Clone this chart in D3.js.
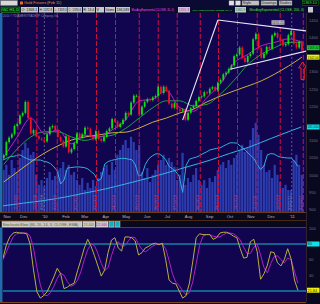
<!DOCTYPE html>
<html><head><meta charset="utf-8">
<script src="https://cdn.jsdelivr.net/npm/d3@7"></script>
<style>
html,body{margin:0;padding:0;background:#08081f;}
svg{display:block;font-family:"Liberation Sans",Arial,sans-serif;}
</style></head><body>
<svg id="chart" width="320" height="304"></svg>
<script>
// ---- data ----
// candles: one every 4 days from Nov 2 2009
const candleStart = "2009-11-02", candleStep = 4;
const firstOpen = 1048;
const closes = [1057,1095,1108,1118,1142,1148,1172,1180,1212,1165,
  1120,1130,1112,1105,1102,1097,1118,1138,1142,1130,
  1110,1098,1082,1112,1065,1075,1092,1120,1108,1118,
  1137,1134,1112,1103,1127,1104,1098,1110,1127,1135,
  1162,1155,1139,1148,1160,1180,1175,1210,1230,1230,
  1175,1198,1212,1220,1217,1225,1229,1256,1238,1256,
  1244,1207,1195,1208,1190,1186,1190,1160,1180,1194,
  1200,1215,1226,1228,1240,1237,1250,1255,1245,1268,
  1276,1292,1297,1308,1318,1345,1350,1370,1340,1328,
  1345,1352,1394,1410,1368,1340,1352,1372,1366,1405,
  1412,1398,1392,1376,1380,1406,1418,1381,1370,1387,
  1362];
// volume (thousands), same dates as candles
const volumes = [105,118,93,130,110,100,135,155,173,160,143,150,
  93,68,80,63,85,100,80,90,105,110,125,105,118,93,100,
  80,68,85,55,73,60,80,65,85,100,110,118,93,125,105,
  143,155,168,180,160,188,175,155,168,100,85,110,75,93,105,118,
  130,143,118,135,125,113,80,93,148,68,85,75,93,110,80,
  68,80,60,85,75,90,105,118,125,110,130,118,135,
  143,155,168,150,160,180,210,223,193,155,118,100,105,85,118,93,
  75,60,68,55,55,130,143,118,93];
// moving averages, every 5th candle
const maEvery = 5;
const ma20  = [1050,1110,1165,1120,1130,1090,1115,1110,1130,1160,1215,1220,1245,1195,1185,1225,1265,1325,1350,1375,1385,1395,1385];
const ma50  = [1030,1075,1110,1125,1125,1110,1100,1110,1115,1135,1165,1195,1215,1215,1200,1205,1235,1275,1320,1350,1370,1385,1385];
const ma200 = [979,1008,1037,1063,1084,1101,1110,1116,1122,1124,1136,1153,1165,1180,1191,1212,1229,1244,1258,1273,1293,1316,1342];
// samples every 5 days from Nov 1 2009
const sampleStart = "2009-11-01", sampleStep = 5;
const volAvg = [130,134,138,139,141,143,138,134,130,130,130,130,127,125,121,113,103,70,80,110,
  111,112,113,112,111,108,101,94,78,83,120,126,129,131,133,134,134,132,131,119,
  90,93,119,133,140,145,146,140,131,114,108,101,89,49,116,132,135,137,141,146,
  150,155,157,159,160,165,169,173,173,172,165,158,150,142,134,119,106,115,143,146,
  145,140,137,136,135,135,127,114];
const stochK = [62,79,89,94,95,94,94,93,80,47,19,11,14,19,28,38,49,42,23,25,
  28,30,46,60,75,86,77,65,52,39,47,69,85,88,75,71,89,89,88,84,
  66,69,75,77,80,81,79,81,60,34,30,29,20,11,14,30,58,88,93,92,
  92,92,86,88,94,95,95,93,90,88,74,62,63,83,86,70,35,42,53,70,
  69,56,52,60,74,61,34,21];
const stochD = [60,70,80,89,93,94,94,94,90,75,50,28,15,14,18,26,36,43,40,32,
  26,28,34,45,60,73,80,78,68,55,46,50,65,78,83,77,78,84,89,88,
  80,73,70,73,77,79,80,80,74,59,42,31,27,20,15,18,32,55,78,90,
  92,92,90,89,89,92,94,94,93,90,85,76,68,68,76,80,66,50,43,55,
  64,65,60,56,62,60,45,30];
// open interest (thousands)
const oiDates = ["2009-11-01","2009-12-01","2010-01-01","2010-02-01","2010-03-01","2010-04-01","2010-05-01","2010-06-01",
  "2010-07-01","2010-08-01","2010-09-01","2010-10-01","2010-11-01","2010-12-01","2011-01-01","2011-01-15"];
const openInterest = [376,383,390,399,409,420,433,447,462,478,494,512,530,551,572,581];
// cycle lines and year marks
const cycleDates = ["2009-11-23","2009-12-21","2010-01-20","2010-02-19","2010-03-19","2010-04-16","2010-05-21","2010-06-18",
  "2010-07-16","2010-08-19","2010-09-15","2010-10-13","2010-11-11","2010-12-15","2011-01-18"];
const yearDates = ["2010-01-01","2011-01-01"];
// axes
const monthDates = ["2009-11-01","2009-12-01","2010-01-01","2010-02-01","2010-03-01","2010-04-01","2010-05-01","2010-06-01",
  "2010-07-01","2010-08-01","2010-09-01","2010-10-01","2010-11-01","2010-12-01","2011-01-01"];
const monthLabels = ["Nov","Dec","'10","Feb","Mar","Apr","May","Jun","Jul","Aug","Sep","Oct","Nov","Dec","'11"];
const priceTicks = [900,950,1000,1050,1100,1150,1200,1250,1300,1350,1400,1450];
const stochTicks = [100,60,40];
// drawn trend lines [date, price]
const trendLines = [
  [["2010-07-24",1159],["2010-09-14",1450]],
  [["2010-09-14",1450],["2011-01-23",1418]],
  [["2010-10-02",1307],["2011-01-23",1360]]
];
const trendLabel = ["2010-12-05",1442,"1431.21"];
const arrowDate = "2011-01-17", arrowTip = 1328, arrowBase = 1277;
const lastQuote = 1369.4;

// ---- layout ----
const W = 320, H = 304;
const L = 3, R = 306, mainTop = 13, mainBot = 212, stTop = 228, stBot = 302;
const parse = d3.timeParse("%Y-%m-%d");
const svg = d3.select("#chart");

const x = d3.scaleTime().domain([new Date(2009,10,1), new Date(2011,0,22)]).range([L,R]);
const y = d3.scaleLinear().domain([900,1450]).range([209.2,20]);
const vy = d3.scaleLinear().domain([0,250]).range([mainBot, mainBot-100]);
const oy = d3.scaleLinear().domain([360,620]).range([mainBot, mainBot-100]);
const sy = d3.scaleLinear().domain([20,80]).range([291,244]);

const candleDate = i => d3.timeDay.offset(parse(candleStart), i*candleStep);
const sampleDate = j => d3.timeDay.offset(parse(sampleStart), j*sampleStep);

// shrink a text until its natural width fits
function fitText(sel, maxW, size) {
  const len = sel.node().getComputedTextLength();
  if (len > maxW) sel.attr("font-size", size * maxW / len);
  return sel;
}

// backgrounds
svg.append("rect").attr("width",W).attr("height",H).attr("fill","#08081f");
svg.append("rect").attr("width",W).attr("height",mainTop).attr("fill","#0a0a32");
svg.append("rect").attr("x",L).attr("y",mainTop).attr("width",R-L).attr("height",mainBot-mainTop).attr("fill","#110550");
svg.append("rect").attr("x",L).attr("y",stTop).attr("width",R-L).attr("height",stBot-stTop).attr("fill","#110550");
svg.append("rect").attr("x",0).attr("y",mainTop).attr("width",2.5).attr("height",mainBot-mainTop).attr("fill","#2468b0");
svg.append("rect").attr("x",0).attr("y",stTop).attr("width",2.5).attr("height",stBot-stTop).attr("fill","#2468b0");

svg.append("clipPath").attr("id","mainClip").append("rect")
  .attr("x",L).attr("y",mainTop).attr("width",R-L).attr("height",mainBot-mainTop);
svg.append("clipPath").attr("id","stClip").append("rect")
  .attr("x",L).attr("y",stTop).attr("width",R-L).attr("height",stBot-stTop);

const main = svg.append("g").attr("clip-path","url(#mainClip)");

// volume bars
main.selectAll(".vol").data(volumes).enter().append("rect")
  .attr("x",(d,i) => x(candleDate(i))-1.2)
  .attr("width",2.2)
  .attr("y",d => vy(d))
  .attr("height",d => mainBot - vy(d))
  .attr("fill","#2c3cae");

// volume average + open interest
main.append("path").datum(volAvg)
  .attr("d",d3.line().x((d,j) => x(sampleDate(j))).y(d => vy(d)))
  .attr("fill","none").attr("stroke","#30b0d8").attr("stroke-width",1);
main.append("path").datum(openInterest)
  .attr("d",d3.line().x((d,i) => x(parse(oiDates[i]))).y(d => oy(d)).curve(d3.curveMonotoneX))
  .attr("fill","none").attr("stroke","#30b8e0").attr("stroke-width",1);

// cycle lines
main.selectAll(".cyc").data(cycleDates).enter().append("line")
  .attr("x1",d => x(parse(d))).attr("x2",d => x(parse(d)))
  .attr("y1",mainTop).attr("y2",mainBot)
  .attr("stroke","#d0103c").attr("stroke-width",1).attr("stroke-dasharray","5,2");
main.selectAll(".yr").data(yearDates).enter().append("line")
  .attr("x1",d => x(parse(d))).attr("x2",d => x(parse(d)))
  .attr("y1",mainTop).attr("y2",mainBot)
  .attr("stroke","#7a6a98").attr("stroke-width",0.8).attr("stroke-dasharray","2,2");
const fmtCyc = d3.timeFormat("%m/%d/%y");
main.selectAll(".cycLab").data(cycleDates).enter().append("text")
  .attr("transform",d => `translate(${x(parse(d))-1},210) rotate(-90)`)
  .attr("font-size",3.8).attr("fill","#c8407a")
  .text(d => fmtCyc(parse(d)));
main.selectAll(".yrLab").data(yearDates).enter().append("text")
  .attr("transform",d => `translate(${x(parse(d))-1},210) rotate(-90)`)
  .attr("font-size",3.8).attr("fill","#8a80a8")
  .text(d => fmtCyc(parse(d)));

// moving averages
const maLine = d3.line().x((d,k) => x(candleDate(k*maEvery))).y(d => y(d)).curve(d3.curveMonotoneX);
main.append("path").datum(ma200).attr("d",maLine).attr("fill","none").attr("stroke","#c8b040").attr("stroke-width",1);
main.append("path").datum(ma50).attr("d",maLine).attr("fill","none").attr("stroke","#20b040").attr("stroke-width",0.9);
main.append("path").datum(ma20).attr("d",maLine).attr("fill","none").attr("stroke","#d020d0").attr("stroke-width",0.9);

// candles
const candles = closes.map((c,i) => ({date: candleDate(i), open: i ? closes[i-1] : firstOpen, close: c}));
const cg = main.selectAll(".candle").data(candles).enter().append("g");
cg.append("line")
  .attr("x1",d => x(d.date)).attr("x2",d => x(d.date))
  .attr("y1",d => y(Math.max(d.open,d.close))-1.5)
  .attr("y2",d => y(Math.min(d.open,d.close))+1.5)
  .attr("stroke",d => d.close >= d.open ? "#10e010" : "#f01028").attr("stroke-width",0.6);
cg.append("rect")
  .attr("x",d => x(d.date)-0.9).attr("width",1.8)
  .attr("y",d => y(Math.max(d.open,d.close)))
  .attr("height",d => Math.max(1, Math.abs(y(d.open)-y(d.close))))
  .attr("fill",d => d.close >= d.open ? "#10e010" : "#f01028");

// trend lines
main.selectAll(".trend").data(trendLines).enter().append("line")
  .attr("x1",d => x(parse(d[0][0]))).attr("y1",d => y(d[0][1]))
  .attr("x2",d => x(parse(d[1][0]))).attr("y2",d => y(d[1][1]))
  .attr("stroke","#e8e8f4").attr("stroke-width",1.1);
const tlx = x(parse(trendLabel[0])), tly = y(trendLabel[1]);
main.append("rect").attr("x",tlx-2).attr("y",tly-2.5).attr("width",13).attr("height",4.5).attr("fill","#b8b8c4");
fitText(main.append("text").attr("x",tlx-1.4).attr("y",tly+1.2).attr("font-size",3.6).attr("fill","#404050")
  .text(trendLabel[2]), 11.8, 3.6);

// arrow
const ax = x(parse(arrowDate)), at = y(arrowTip), ab = y(arrowBase);
main.append("path")
  .attr("d",`M${ax},${at} L${ax+4},${at+6} L${ax+1.6},${at+6} L${ax+1.6},${ab} L${ax-1.6},${ab} L${ax-1.6},${at+6} L${ax-4},${at+6} Z`)
  .attr("fill","none").attr("stroke","#ff2020").attr("stroke-width",1);

// copyright
fitText(svg.append("text").attr("x",3).attr("y",17).attr("font-size",3.4).attr("fill","#8a8ab0")
  .text("2010 © TD AMERITRADE IP Company, Inc."), 56, 3.4);

// value boxes on the right (positions used to hide covered tick labels)
const boxYs = [y(lastQuote), y(ma200[ma200.length-1]), oy(openInterest[openInterest.length-1]), sy(80), sy(stochK[stochK.length-1])];
const covered = v => boxYs.some(b => Math.abs(b - v) < 5);

// price axis
const pAxis = svg.append("g").attr("transform",`translate(${R},0)`)
  .call(d3.axisRight(y).tickValues(priceTicks).tickSize(0).tickFormat(d3.format("d")));
pAxis.select(".domain").remove();
pAxis.selectAll(".tick").filter(d => covered(y(d))).remove();
pAxis.selectAll("text").attr("x",3).attr("font-size",4).attr("fill","#707090").attr("font-family","Liberation Sans, Arial");

// date axis
const mAxis = svg.append("g").attr("transform",`translate(0,${mainBot+1})`)
  .call(d3.axisBottom(x).tickValues(monthDates.map(parse)).tickSize(0).tickFormat((d,i) => monthLabels[i]));
mAxis.select(".domain").remove();
mAxis.selectAll("text").attr("y",2).attr("font-size",4.2).attr("fill","#b8b8c8").attr("font-family","Liberation Sans, Arial");
mAxis.selectAll("text").filter((d,i) => i === 0).attr("text-anchor","start");

// borders
[[mainBot+0.5,"#6b3a12"],[220.5,"#4a2a10"],[stTop-0.5,"#6b3a12"],[stBot+0.5,"#7a4a18"]].forEach(b => {
  svg.append("line").attr("x1",0).attr("x2",R).attr("y1",b[0]).attr("y2",b[0]).attr("stroke",b[1]).attr("stroke-width",1);
});
svg.append("line").attr("x1",R+0.5).attr("x2",R+0.5).attr("y1",mainTop).attr("y2",stBot).attr("stroke","#3a2a30").attr("stroke-width",0.8);

// stochastic panel
const st = svg.append("g").attr("clip-path","url(#stClip)");
[80,20].forEach(v => {
  st.append("line").attr("x1",L).attr("x2",R).attr("y1",sy(v)).attr("y2",sy(v)).attr("stroke","#10c0d0").attr("stroke-width",1);
});
const stLine = d3.line().x((d,j) => x(sampleDate(j))).y(d => sy(d));
st.append("path").datum(stochD).attr("d",stLine).attr("fill","none").attr("stroke","#b020c0").attr("stroke-width",1);
st.append("path").datum(stochK).attr("d",stLine).attr("fill","none").attr("stroke","#b8b040").attr("stroke-width",1);
const sAxis = svg.append("g").attr("transform",`translate(${R},0)`)
  .call(d3.axisRight(sy).tickValues(stochTicks).tickSize(0));
sAxis.select(".domain").remove();
sAxis.selectAll(".tick").filter(d => covered(sy(d))).remove();
sAxis.selectAll("text").attr("x",3).attr("font-size",4).attr("fill","#707090").attr("font-family","Liberation Sans, Arial");

function valueBox(yPos, txt, bg, fg) {
  svg.append("rect").attr("x",R+1).attr("y",yPos-2.5).attr("width",12.5).attr("height",5).attr("fill",bg);
  fitText(svg.append("text").attr("x",R+1.6).attr("y",yPos+1.4).attr("font-size",3.8).attr("fill",fg).text(txt), 11.2, 3.8);
}
valueBox(boxYs[0], d3.format(".2f")(lastQuote), "#10d030", "#003000");
valueBox(boxYs[1], d3.format(".2f")(ma200[ma200.length-1]), "#f0f010", "#303000");
valueBox(boxYs[2], d3.format(",")(openInterest[openInterest.length-1]*1000), "#10e0e8", "#003030");
valueBox(boxYs[3], "80", "#10e0e8", "#003030");
valueBox(boxYs[4], d3.format(".2f")(stochK[stochK.length-1]+0.84), "#f0f010", "#303000");

// header boxes
function box(bx, by, w, h, bg, fg, txt, stroke) {
  if (bg) svg.append("rect").attr("x",bx).attr("y",by).attr("width",w).attr("height",h)
    .attr("fill",bg).attr("stroke",stroke || "none").attr("stroke-width",0.4);
  if (txt) fitText(svg.append("text").attr("x",bx+0.6).attr("y",by+h-1.2).attr("font-size",3.8).attr("fill",fg).text(txt), w-1.4, 3.8);
}
// row 1
box(0.5,0.5,17,5,"#d8d8d8",null,null,"#808080");
svg.append("rect").attr("x",20).attr("y",1.5).attr("width",3).attr("height",3).attr("fill","#e07020");
box(23.5,0.5,41,5,null,"#e89030","Gold Futures (Feb 11)");
box(229,0.8,5,4.4,"#e0e0e0",null,null,"#909090");
box(235.5,0.8,5,4.4,"#e0e0e0",null,null,"#909090");
box(242,0.8,17,4.4,"#c0c0c0","#202020","Style","#808080");
box(261,0.8,16,4.4,"#c0c0c0","#202020","Drawings","#808080");
box(279,0.8,13,4.4,"#c0c0c0","#202020","Studies","#808080");
box(302.5,0.5,16,5,"#000000","#20ff40","1369.10","#20a020");
// row 2
box(1,7,19,5.5,"#0a3010","#30ff30","/GC H1, D","#30c030");
box(21,7,17,5.5,"#c8c8c8","#101010","O: 1368.1");
box(39,7,14,5.5,"#c8c8c8","#101010","H: 1372.8");
box(54,7,13.5,5.5,"#c8c8c8","#101010","L: 1359.3");
box(68,7,14,5.5,"#c8c8c8","#101010","C: 1370.6");
box(83,7,12,5.5,"#c8c8c8","#101010","R: 13.4");
box(96,7,8,5.5,"#c8c8c8","#101010","V");
box(105,7,10,5.5,"#c8c8c8","#101010","Volume");
box(116,7,14,5.5,"#c8c8c8","#101010","186,589");
box(131,7,44,5.5,null,"#ff40ff","MovAvgExponential (CLOSE, 20, 0)");
box(178,7,12,5.5,"#c8c8c8","#c020c0","1351.3");
box(192,7,41,5.5,null,"#40e040","MovAvgExponential (CLOSE, 50, 0)");
box(235,7,11,5.5,"#c8c8c8","#108010","1365.9");
box(249,7,56,5.5,null,"#50e040","MovAvgExponential (CLOSE, 200, 0)");
box(308,7,5,5.5,"#c8c8c8",null,null);
// stochastic header
box(2,221.5,80,5.5,"#c8c8c8","#606010","StochasticSlow (80, 20, 14, 3, CLOSE, EMA)","#f0f0f0");
box(83,221.5,12,5.5,"#c8c8c8","#808000","23.440","#f0f0f0");
box(96.5,221.5,11.5,5.5,"#c8c8c8","#c020c0","21.840","#f0f0f0");
box(109,221.5,5,5.5,"#10b0c0",null,null,"#f0f0f0");
box(115,221.5,5,5.5,"#10b0c0",null,null,"#f0f0f0");
</script>
</body></html>
